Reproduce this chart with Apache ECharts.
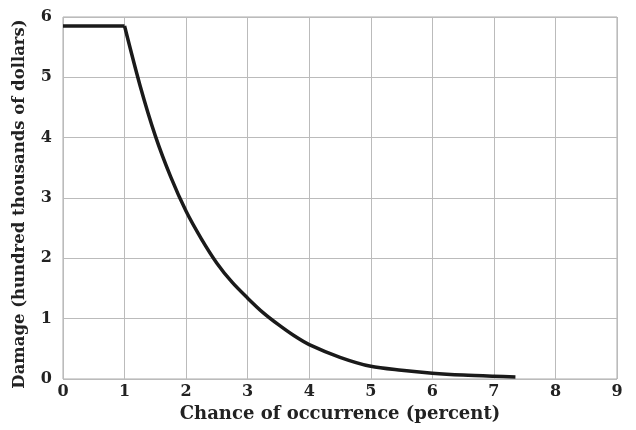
<!DOCTYPE html>
<html><head><meta charset="utf-8">
<script src="https://cdn.jsdelivr.net/npm/echarts@6/dist/echarts.min.js"></script>
<style>html,body{margin:0;padding:0;background:#fff}#c{width:636px;height:430px}</style>
</head><body><div id="c"></div>
<script>
const chanceX = [0, 1, 1.25, 1.5, 1.75, 2, 2.25, 2.5, 2.75, 3, 3.25, 3.5, 3.75, 4, 4.5, 5, 5.5, 6, 6.5, 7, 7.35];
const damageY = [5.85, 5.85, 4.87, 4.03, 3.35, 2.78, 2.32, 1.92, 1.6, 1.34, 1.1, 0.9, 0.72, 0.57, 0.36, 0.21, 0.145, 0.097, 0.065, 0.045, 0.035];
const xTicks = [0,1,2,3,4,5,6,7,8,9];
const yTicks = [0,1,2,3,4,5,6];
const xName = 'Chance of occurrence (percent)';
const yName = 'Damage (hundred thousands of dollars)';

const pts = chanceX.map((x,i)=>[x, damageY[i]]);
const chart = echarts.init(document.getElementById('c'), null, {renderer:'canvas'});
const font = '"DejaVu Serif", "Liberation Serif", serif';
const lineStyle = {color:'#1a1a1a', width:3.5, join:'round', cap:'butt'};
chart.setOption({
  animation:false,
  backgroundColor:'#fff',
  grid:{left:63, right:19, top:17, bottom:51, show:true, borderColor:'#aaa', borderWidth:1, containLabel:false, outerBoundsMode:'none'},
  xAxis:{type:'value', min:xTicks[0], max:xTicks[xTicks.length-1], interval:1,
    name:xName, nameLocation:'middle', nameGap:25,
    nameTextStyle:{fontFamily:font, fontWeight:'bold', fontSize:18, color:'#222'},
    axisLine:{show:false}, axisTick:{show:false},
    axisLabel:{fontFamily:font, fontWeight:'bold', fontSize:16, color:'#222', margin:5},
    splitLine:{lineStyle:{color:'#bbb', width:1}}},
  yAxis:{type:'value', min:yTicks[0], max:yTicks[yTicks.length-1], interval:1,
    name:yName, nameLocation:'middle', nameGap:35, nameRotate:90,
    nameTextStyle:{fontFamily:font, fontWeight:'bold', fontSize:16.5, color:'#222', padding:[0,12,0,0]},
    axisLine:{show:false}, axisTick:{show:false},
    axisLabel:{fontFamily:font, fontWeight:'bold', fontSize:16, color:'#222', margin:11},
    splitLine:{lineStyle:{color:'#bbb', width:1}}},
  series:[
    {type:'line', data:pts.slice(0,2), showSymbol:false, lineStyle:lineStyle},
    {type:'line', data:pts.slice(1), smooth:0.3, showSymbol:false, lineStyle:lineStyle}
  ]
});
</script></body></html>
